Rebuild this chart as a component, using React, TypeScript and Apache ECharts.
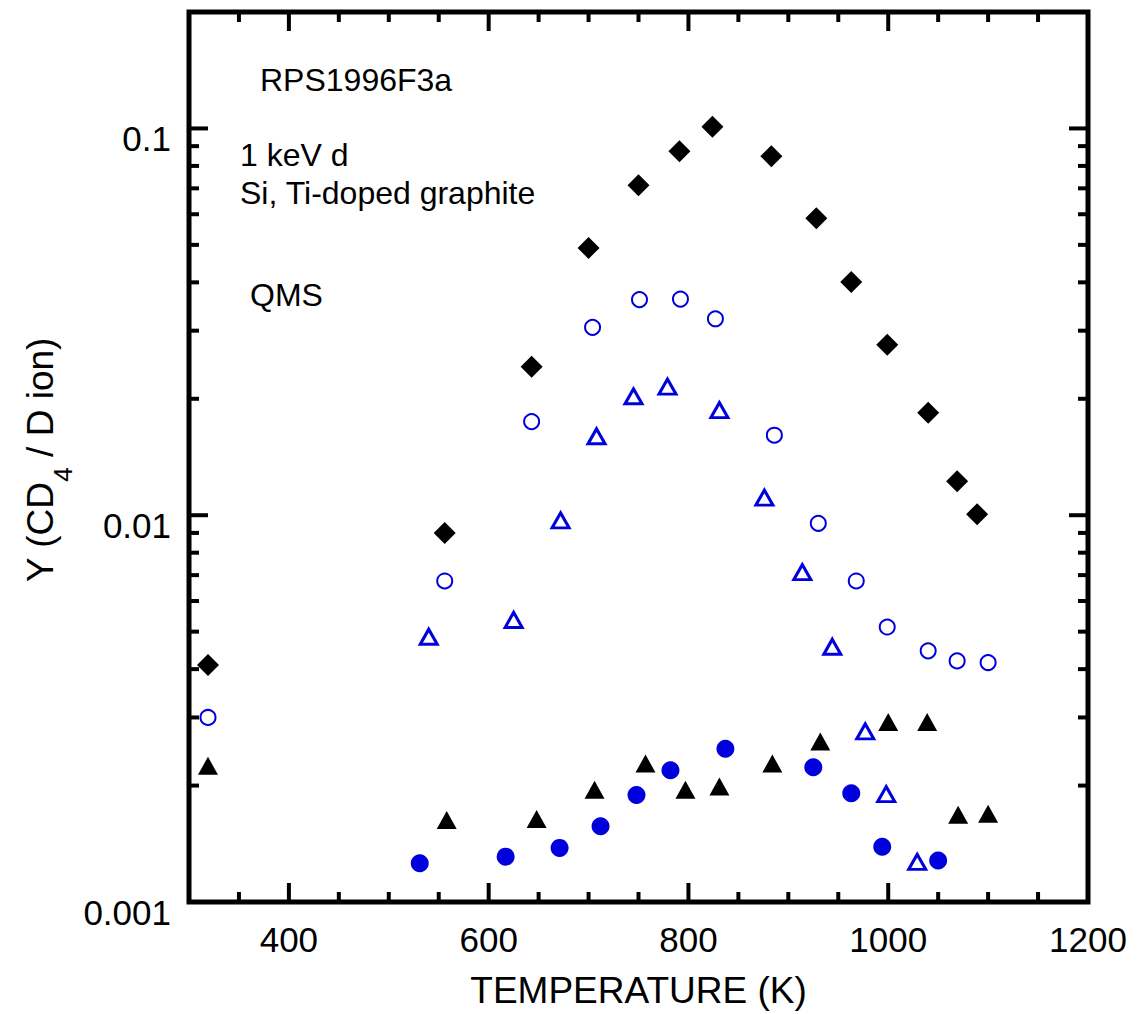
import React, { useEffect, useRef } from "react";
import * as echarts from "echarts";

// ---- data (temperature K, yield CD4 / D ion) ----
const diamondT = [319, 556, 643, 700, 750, 791, 824, 883, 928, 963, 999, 1040, 1069, 1089];
const diamondY = [0.0041, 0.009, 0.0242, 0.0491, 0.0713, 0.0873, 0.101, 0.0848, 0.0586, 0.0401, 0.0276, 0.0184, 0.01225, 0.01006];

const openCircleT = [319, 556, 643, 704, 751, 792, 827, 886, 930, 968, 999, 1040, 1069, 1100];
const openCircleY = [0.003, 0.00676, 0.01746, 0.0306, 0.0361, 0.0362, 0.0322, 0.0161, 0.00953, 0.00676, 0.00514, 0.00446, 0.0042, 0.00416];

const openTriT = [540, 625, 672, 708, 745, 779, 831, 876, 914, 944, 977, 998, 1029];
const openTriY = [0.00485, 0.00536, 0.0097, 0.016, 0.0203, 0.0215, 0.0187, 0.0111, 0.00713, 0.00457, 0.00276, 0.0019, 0.00127];

const filledTriT = [319, 558, 648, 706, 757, 797, 831, 884, 932, 1000, 1039, 1070, 1100];
const filledTriY = [0.00225, 0.00163, 0.00164, 0.00195, 0.00228, 0.00195, 0.00199, 0.00228, 0.0026, 0.00292, 0.00292, 0.00168, 0.00169];

const filledCircT = [531, 617, 671, 712, 748, 782, 837, 925, 963, 994, 1050];
const filledCircY = [0.00126, 0.00131, 0.00138, 0.00157, 0.00189, 0.00219, 0.00249, 0.00223, 0.00191, 0.00139, 0.00128];

// axis ranges and tick positions
const X_MIN = 300;
const X_MAX = 1200;
const Y_MIN = 0.001;
const Y_MAX = 0.2;
const xTickValues = [350, 400, 450, 500, 550, 600, 650, 700, 750, 800, 850, 900, 950, 1000, 1050, 1100, 1150];
const yTickValues = [
  0.002, 0.003, 0.004, 0.005, 0.006, 0.007, 0.008, 0.009, 0.01,
  0.02, 0.03, 0.04, 0.05, 0.06, 0.07, 0.08, 0.09, 0.1,
];

const annotations = ["RPS1996F3a", "1 keV d", "Si, Ti-doped graphite", "QMS"];

const FONT = "'Liberation Sans', Arial, sans-serif";
const BLUE = "#0000dd";

function pairs(xs: number[], ys: number[]) {
  return xs.map((x, i) => [x, ys[i]]);
}

function isDecade(v: number) {
  const l = Math.log10(v);
  return Math.abs(l - Math.round(l)) < 1e-6;
}

export default function App() {
  const ref = useRef<HTMLDivElement>(null);

  useEffect(() => {
    if (!ref.current) return;
    const chart = echarts.init(ref.current, undefined, { renderer: "svg" });

    const tickStyle = { stroke: "#000", lineWidth: 4 };
    const annStyle = (text: string) => ({
      text,
      fontSize: 32,
      fontFamily: FONT,
      fill: "#000",
      verticalAlign: "middle",
    });

    const option: any = {
      animation: false,
      backgroundColor: "#fff",
      textStyle: { fontFamily: FONT },
      grid: {
        left: 189,
        right: 52,
        top: 12,
        bottom: 109,
        show: true,
        borderColor: "#000",
        borderWidth: 5,
        backgroundColor: "transparent",
      },
      xAxis: {
        type: "value",
        min: X_MIN,
        max: X_MAX,
        interval: 100,
        axisLine: { show: false },
        axisTick: { show: false },
        splitLine: { show: false },
        axisLabel: {
          margin: 20,
          fontSize: 35,
          color: "#000",
          fontFamily: FONT,
          formatter: (v: number) => (v % 200 === 0 ? String(v) : ""),
        },
        name: "TEMPERATURE (K)",
        nameLocation: "middle",
        nameGap: 70,
        nameTextStyle: { fontSize: 37, color: "#000", fontFamily: FONT },
      },
      yAxis: {
        type: "log",
        logBase: 10,
        min: Y_MIN,
        max: Y_MAX,
        axisLine: { show: false },
        axisTick: { show: false },
        splitLine: { show: false },
        minorTick: { show: false },
        axisLabel: {
          margin: 18,
          color: "#000",
          fontFamily: FONT,
          formatter: (v: number) => (isDecade(v) ? "{a|" + String(+v.toPrecision(1)) + "}" : ""),
          rich: {
            a: { fontSize: 35, fontFamily: FONT, color: "#000", padding: [20, 0, 0, 0] },
          },
        },
      },
      graphic: [
        {
          type: "text",
          x: 40,
          y: 460,
          rotation: Math.PI / 2,
          style: {
            text: "Y (CD{sub|4} / D ion)",
            fontSize: 37,
            fontFamily: FONT,
            fill: "#000",
            align: "center",
            verticalAlign: "middle",
            rich: {
              sub: { fontSize: 26, fontFamily: FONT, fill: "#000", padding: [45, 0, 0, 0] },
            },
          },
        },
        { type: "text", x: 260, y: 80, style: annStyle(annotations[0]) },
        { type: "text", x: 240, y: 155, style: annStyle(annotations[1]) },
        { type: "text", x: 240, y: 193, style: annStyle(annotations[2]) },
        { type: "text", x: 250, y: 295, style: annStyle(annotations[3]) },
      ],
      series: [
        {
          type: "custom",
          name: "xTicks",
          silent: true,
          clip: false,
          data: xTickValues.map((v) => [v, Y_MIN]),
          renderItem: (_p: any, api: any) => {
            const v = api.value(0);
            const b = api.coord([v, Y_MIN]);
            const t = api.coord([v, Y_MAX]);
            const len = v % 200 === 0 ? 19 : 10;
            return {
              type: "group",
              children: [
                { type: "line", shape: { x1: b[0], y1: b[1], x2: b[0], y2: b[1] - len }, style: tickStyle },
                { type: "line", shape: { x1: t[0], y1: t[1], x2: t[0], y2: t[1] + len }, style: tickStyle },
              ],
            };
          },
        },
        {
          type: "custom",
          name: "yTicks",
          silent: true,
          clip: false,
          data: yTickValues.map((v) => [X_MIN, v]),
          renderItem: (_p: any, api: any) => {
            const v = api.value(1);
            const l = api.coord([X_MIN, v]);
            const r = api.coord([X_MAX, v]);
            const len = isDecade(v) ? 19 : 10;
            return {
              type: "group",
              children: [
                { type: "line", shape: { x1: l[0], y1: l[1], x2: l[0] + len, y2: l[1] }, style: tickStyle },
                { type: "line", shape: { x1: r[0], y1: r[1], x2: r[0] - len, y2: r[1] }, style: tickStyle },
              ],
            };
          },
        },
        {
          type: "scatter",
          name: "diamond",
          symbol: "diamond",
          symbolSize: [22, 22],
          itemStyle: { color: "#000", opacity: 1 },
          data: pairs(diamondT, diamondY),
        },
        {
          type: "scatter",
          name: "openCircle",
          symbol: "circle",
          symbolSize: 15,
          itemStyle: { color: "rgba(255,255,255,0)", borderColor: BLUE, borderWidth: 2, opacity: 1 },
          data: pairs(openCircleT, openCircleY),
        },
        {
          type: "scatter",
          name: "openTriangle",
          symbol: "triangle",
          symbolSize: [17, 15],
          itemStyle: { color: "rgba(255,255,255,0)", borderColor: BLUE, borderWidth: 3, opacity: 1 },
          data: pairs(openTriT, openTriY),
        },
        {
          type: "scatter",
          name: "filledTriangle",
          symbol: "triangle",
          symbolSize: [20, 18],
          itemStyle: { color: "#000", opacity: 1 },
          data: pairs(filledTriT, filledTriY),
        },
        {
          type: "scatter",
          name: "filledCircle",
          symbol: "circle",
          symbolSize: 18,
          itemStyle: { color: BLUE, opacity: 1 },
          data: pairs(filledCircT, filledCircY),
        },
      ],
    };

    chart.setOption(option);
    return () => chart.dispose();
  }, []);

  return (
    <div
      ref={ref}
      style={{ position: "fixed", left: 0, top: 0, width: 1140, height: 1014, background: "#fff" }}
    />
  );
}
